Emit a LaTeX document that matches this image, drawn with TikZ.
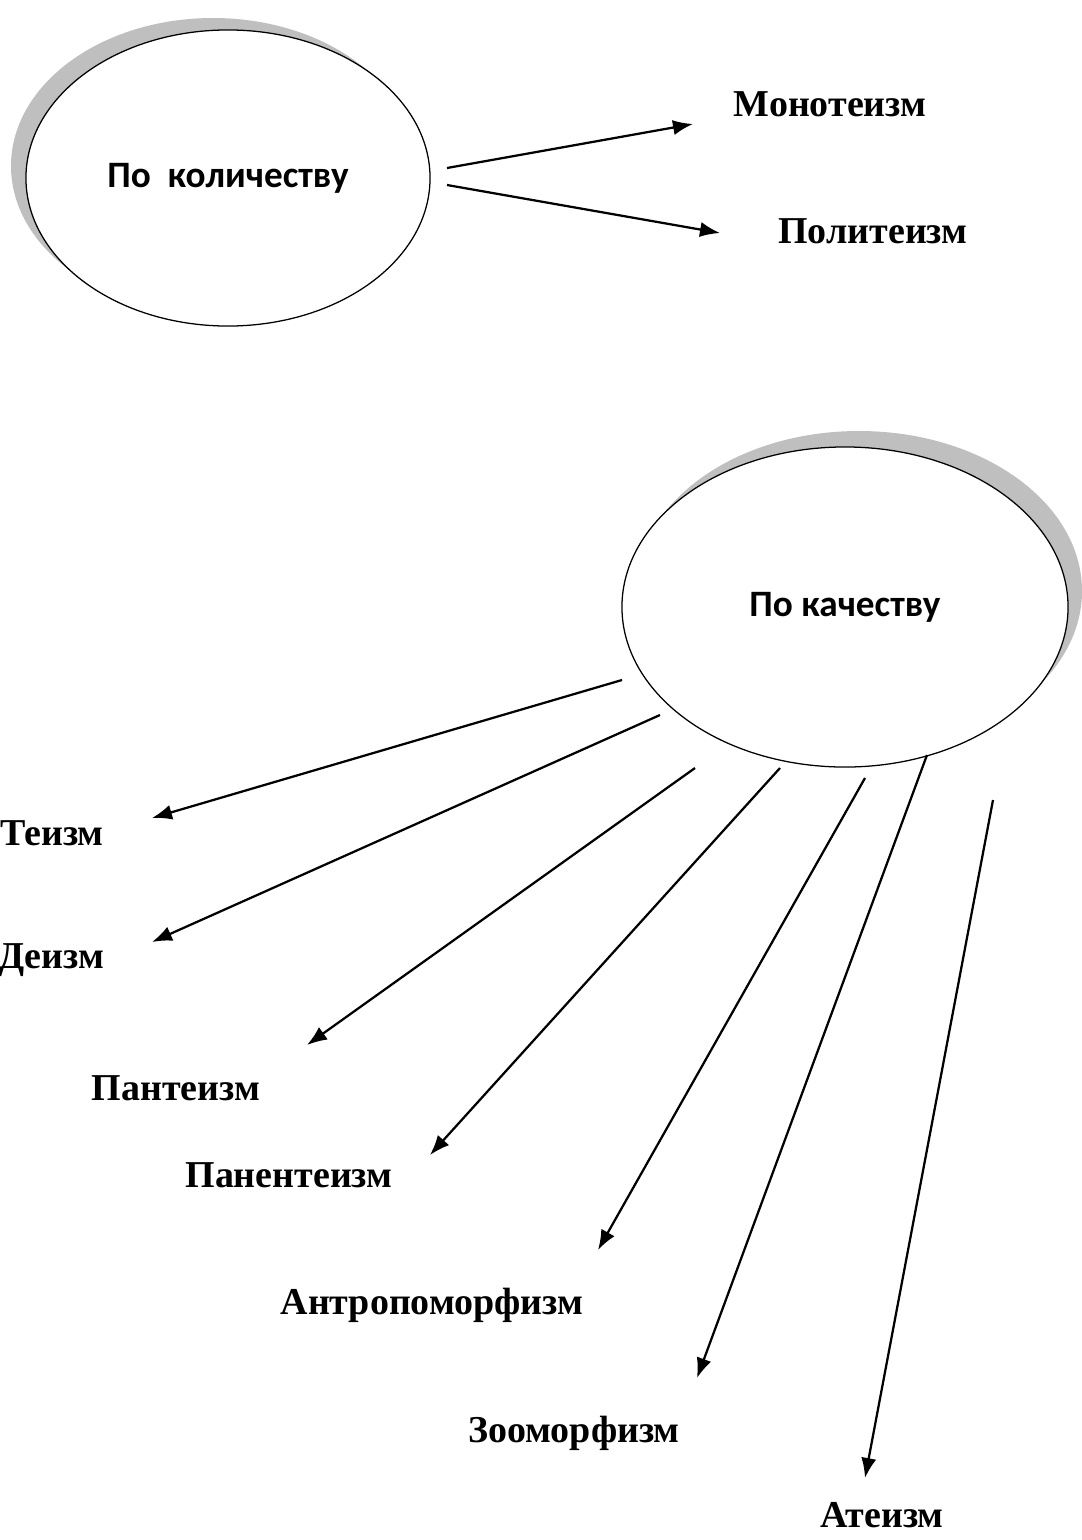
\documentclass[tikz,border=0pt]{standalone}
\usepackage{fontspec}
\setmainfont{Liberation Serif}
\setsansfont{Carlito}
\usetikzlibrary{arrows.meta,shapes.geometric}

\definecolor{shadowgrey}{RGB}{191,191,191}

\begin{document}
\begin{tikzpicture}[x=0.025cm,y=-0.025cm,
		group node/.style={ellipse,draw,line width=0.9pt,fill=white,inner sep=0pt,
			font=\sffamily\bfseries\fontsize{26.5}{30}\selectfont},
		kind node/.style={font=\bfseries\fontsize{27}{31}\selectfont,inner sep=0pt},
		arr/.style={-{Latex[length=5mm,width=3.8mm]},line width=1.6pt}]
	
	\useasboundingbox (0,0) rectangle (1081,1540);
	
	% shadows
	\fill[shadowgrey] (213,166) ellipse [x radius=202,y radius=148];
	\fill[shadowgrey] (859,591) ellipse [x radius=223,y radius=160];
	
	% classification by number
	\node[group node,minimum width=10.1cm,minimum height=7.4cm]
		(kol) at (228,178) {По~ количеству};
	\node[kind node] (mono) at (830,104) {Монотеизм};
	\node[kind node] (poli) at (873,231) {Политеизм};
	
	\coordinate (s1) at (447,168);
	\coordinate (e1) at (693,124);
	\coordinate (s2) at (447,185);
	\coordinate (e2) at (720,233);
	\draw[arr] (s1) -- (e1);
	\draw[arr] (s2) -- (e2);
	
	% classification by quality
	\node[group node,minimum width=11.15cm,minimum height=8cm]
		(kach) at (845,607) {По качеству};
	\node[kind node] (teizm) at (52,833) {Теизм};
	\node[kind node] (deizm) at (51,960) {Деизм};
	\node[kind node] (pant) at (176,1088) {Пантеизм};
	\node[kind node] (panen) at (289,1175) {Панентеизм};
	\node[kind node] (antr) at (432,1305) {Антропоморфизм};
	\node[kind node] (zoo) at (574,1433) {Зооморфизм};
	\node[kind node] (ateizm) at (882,1515) {Атеизм};
	
	\foreach \i/\sx/\sy/\ex/\ey in {3/622/680/152/818, 4/660/715/152/942,
			5/695/768/307/1045, 6/780/768/430/1155, 7/865/778/598/1250,
			8/927/755/697/1378, 9/993/800/865/1478}{
		\coordinate (s\i) at (\sx,\sy);
		\coordinate (e\i) at (\ex,\ey);
		\draw[arr] (s\i) -- (e\i);
	}
\end{tikzpicture}
\end{document}
